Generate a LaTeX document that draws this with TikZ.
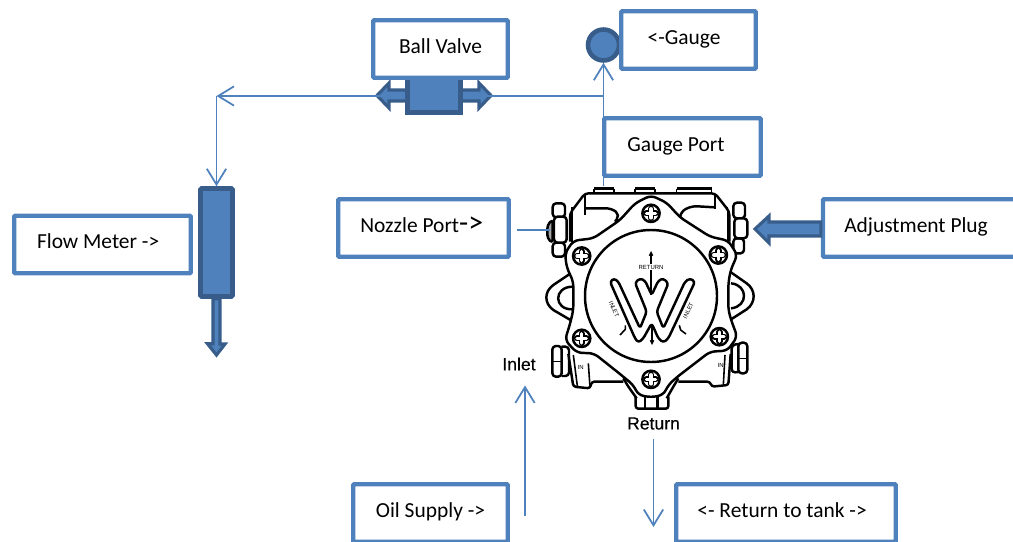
\documentclass[tikz,border=0pt]{standalone}
\usepackage{fontspec}
\setmainfont{Carlito}
\newfontfamily\pumpfont{Liberation Sans}
\newfontfamily\pumpheavyfont[FakeBold=.3]{Liberation Sans}
\usetikzlibrary{arrows.meta,positioning,calc}
\definecolor{officeblue}{HTML}{4F81BD}
\definecolor{officedark}{HTML}{385D8A}

\begin{document}
\begin{tikzpicture}[
    x=.02cm, y=-.02cm,
    >={Straight Barb[length=9pt,width=11pt,line width=1pt]},
    labelbox/.style = {draw=officeblue, fill=white, line width=2.5pt, rounded corners=.6pt, minimum height=1.15cm, text height=9.6pt, text depth=4.6pt, font=\fontsize{12.2}{14}\selectfont},
    flowline/.style = {->, draw=officeblue, line width=1pt},
    plainline/.style = {draw=officeblue, line width=1pt},
    solidpart/.style = {draw=officedark, fill=officeblue, line width=2.6pt},
    pumpline/.style = {draw=black, line width=.9pt, line join=round},
    pumpheavy/.style = {draw=black, line width=1.4pt, line join=round},
    pumptext/.style = {font=\pumpheavyfont\fontsize{10}{12}\selectfont},
    pumpsmall/.style = {font=\pumpfont\fontsize{3.4}{4}\selectfont}
    ]
    \useasboundingbox (0,0) rectangle (1013,541);
    \clip (0,0) rectangle (1013,541);

    % pump drawing
    \begin{scope}[shift={(520,170)}, scale=1/3]
      % top bars
      \foreach \bx/\bw in {222/60, 345/60, 470/105} {
        \draw[pumpline, line width=1.6pt] (\bx,56) -- (\bx+\bw,56);
        \draw[pumpline] (\bx,56) -- (\bx,68) (\bx+\bw,56) -- (\bx+\bw,68);
      }
      % body
      \draw[pumpheavy, rounded corners=2pt] (150,215) -- (150,130) -- (195,70) -- (585,70) -- (628,125) -- (628,215);
      \draw[pumpline] (156,215) -- (156,112);
      \draw[pumpline] (622,215) -- (622,112);
      \draw[pumpheavy] (195,72) -- (195,135);
      \draw[pumpheavy, rounded corners=3pt] (198,115) -- (275,115) -- (300,135) -- (285,155);
      \draw[pumpheavy] (585,72) -- (585,118);
      \draw[pumpheavy, rounded corners=3pt] (585,112) -- (515,108) -- (482,125) -- (480,145);
      % side nuts
      \draw[pumpheavy, fill=black!35, rounded corners=2pt] (98,148) -- (82,165) -- (82,205) -- (98,220) -- cycle;
      \draw[pumpheavy, fill=white, rounded corners=2pt] (98,100) rectangle (135,142);
      \draw[pumpheavy, fill=white, rounded corners=2pt] (98,218) rectangle (135,260);
      \draw[pumpheavy, fill=white, rounded corners=2pt] (102,140) rectangle (140,218);
      \draw[pumpheavy, fill=white, rounded corners=2pt] (640,98) rectangle (675,145);
      \draw[pumpheavy, fill=white, rounded corners=2pt] (640,205) rectangle (672,250);
      \draw[pumpheavy, fill=white, rounded corners=2pt] (643,145) rectangle (682,205);
      % ears
      \draw[pumpheavy] (155,308) -- (100,345) .. controls (72,365) and (72,400) .. (100,420) -- (165,458);
      \draw[pumpheavy] (158,350) .. controls (100,350) and (100,420) .. (158,418);
      \draw[pumpheavy] (630,305) -- (680,340) .. controls (708,360) and (708,398) .. (680,418) -- (630,450);
      \draw[pumpheavy] (633,340) .. controls (685,345) and (685,410) .. (633,415);
      % lower body and nuts
      \draw[pumpheavy, rounded corners=1.5pt] (145,552) -- (160,650) -- (210,655) -- (215,635) -- (310,635);
      \draw[pumpline] (160,555) -- (172,648) (205,580) -- (210,652);
      \draw[pumpheavy, fill=white, rounded corners=2pt] (97,528) rectangle (125,620);
      \draw[pumpheavy, rounded corners=2pt] (125,530) -- (147,530) -- (147,618) -- (125,618);
      \draw[pumpline] (98,575) -- (125,575);
      \draw[pumpheavy, rounded corners=1.5pt] (632,552) -- (625,645) -- (575,650) -- (570,635) -- (475,635);
      \draw[pumpline] (615,555) -- (610,645);
      \draw[pumpheavy, fill=white, rounded corners=2pt] (655,518) rectangle (682,610);
      \draw[pumpheavy, rounded corners=2pt] (655,522) -- (635,525) -- (635,608) -- (655,606);
      \draw[pumpline] (655,565) -- (682,565);
      % bottom nub
      \draw[pumpheavy, rounded corners=1.5pt] (347,680) -- (347,716) -- (445,716) -- (445,680);
      \draw[pumpheavy] (375,682) -- (375,714) (412,682) -- (412,714);
      \draw[pumpheavy, rounded corners=1.5pt] (310,625) -- (325,650) -- (350,685);
      \draw[pumpheavy, rounded corners=1.5pt] (475,625) -- (460,650) -- (440,685);
      % cover plate
      \draw[pumpheavy, fill=white, rounded corners=3pt] (393,76) -- (440,98) -- (480,142) -- (570,200) -- (625,212) -- (652,255) -- (632,300) -- (625,340) -- (625,420) -- (635,455) -- (652,500) -- (622,542) -- (570,545) -- (470,622) -- (445,645) -- (430,675) -- (393,682) -- (355,675) -- (340,645) -- (300,612) -- (222,550) -- (170,548) -- (135,510) -- (150,462) -- (160,420) -- (160,335) -- (140,292) -- (135,250) -- (160,212) -- (220,205) -- (300,150) -- (345,100) -- cycle;
      \draw[pumpheavy] (393,378) circle (198);
      % screws
      \foreach \sx/\sy in {393/130, 595/255, 598/500, 393/628, 185/258, 185/505} {
        \draw[pumpheavy] (\sx,\sy) circle (26);
        \draw[black, line width=3.6pt, line cap=round] (\sx-14,\sy) -- (\sx+14,\sy) (\sx,\sy-14) -- (\sx,\sy+14);
        \draw[white, line width=1.8pt, line cap=round] (\sx-14,\sy) -- (\sx+14,\sy) (\sx,\sy-14) -- (\sx,\sy+14);
      }
      % W
      \draw[pumpheavy, rounded corners=1.6pt] (270,335) -- (282,325) -- (295,335) -- (360,475) -- (380,425) -- (345,338) -- (360,325) -- (375,332) -- (395,375) -- (415,332) -- (430,325) -- (445,340) -- (410,425) -- (430,475) -- (495,335) -- (510,325) -- (525,335) -- (445,505) -- (430,518) -- (415,505) -- (395,460) -- (370,505) -- (355,518) -- (345,505) -- cycle;
      \draw[pumpline, line width=.6pt, ->, >={Straight Barb[length=2pt,width=2pt]}] (393,375) -- (393,243);
      \draw[pumpline, line width=.6pt, ->, >={Straight Barb[length=2pt,width=2pt]}] (396,462) -- (396,525);
      \draw[pumpline] (316,466) -- (316,478) -- (300,495);
      \draw[pumpline] (478,466) -- (482,480) -- (498,492);
      \node[pumpsmall, fill=white, inner sep=.5pt] (returnmark) at (393,291) {RETURN};
      \node[pumpsmall, rotate=-65] (inletleft) at (282,418) {INLET};
      \node[pumpsmall, rotate=65] (inletright) at (505,422) {INLET};
      \node[pumpsmall] (inleft) at (182,592) {IN};
      \node[pumpsmall] (inright) at (602,585) {IN};
    \end{scope}

    \coordinate (pumptop) at (603.5,186);
    \coordinate (pumpnozzle) at (550,230);
    \coordinate (junction) at (603.5,96);
    \coordinate (corner) at (216.5,96);

    % valve arrows sit under the lines
    \draw[solidpart, line width=1.8pt, line join=miter, miter limit=10] (377,95.5) -- (389,83) -- (389,90) -- (479,90) -- (479,83) -- (491,95.5) -- (479,108) -- (479,101) -- (389,101) -- (389,108) -- cycle;

    \node[solidpart, minimum width=1.06cm, minimum height=1.1cm, inner sep=0pt] (valve) at (434,85) {};
    \node[solidpart, minimum width=.64cm, minimum height=2.16cm, inner sep=0pt, rounded corners=.6pt] (meter) at (216.5,242.5) {};
    \draw[solidpart, line width=1.8pt, line join=miter] (meter.south) ++(-3.5,0) -- ++(0,45) -- ++(-5.5,0) -- (216.5,355) -- (225,344) -- ++(-5,0) -- ($(meter.south)+(3.5,0)$) -- cycle;
    \node[solidpart, circle, minimum size=.62cm, inner sep=0pt] (gaugedot) at (603.5,45) {};

    \draw[plainline] (junction) -- (valve.east |- junction);
    \draw[flowline] (pumptop) -- (gaugedot.south);
    \draw[flowline] (valve.west |- junction) -- (corner);
    \draw[flowline] (corner) -- (meter.north);

    \node[labelbox, minimum width=2.69cm] (ballvalve) at (440.5,49) {Ball Valve};
    \node[labelbox, minimum width=2.69cm] (gauge) at (688.5,40) {<-Gauge\kern5pt};
    \node[labelbox, minimum width=3.13cm] (gaugeport) at (682.5,147) {Gauge Port\kern7.4pt};
    \node[labelbox, minimum width=3.53cm] (flowmeter) at (102.5,244.5) {Flow Meter ->\kern5pt};
    \node[labelbox, minimum width=3.41cm] (nozzleport) at (423.5,228) {Nozzle Port{\fontsize{17}{17}\selectfont ->}\kern2pt};
    \node[labelbox, minimum width=4.2cm] (adjustplug) at (928,228) {Adjustment Plug\kern13.6pt};
    \node[labelbox, minimum width=3.09cm] (oilsupply) at (430.5,513) {Oil Supply ->};
    \node[labelbox, minimum width=4.39cm] (returntank) at (786,513) {<- Return to tank ->\kern4.5pt};

    \node[pumptext] (inlet) at (519,364) {Inlet};
    \node[pumptext] (return) at (653.5,423.5) {Return};

    \draw[plainline, shorten <=3.4pt] (nozzleport.east |- pumpnozzle) -- (pumpnozzle);
    \draw[solidpart, line width=1.8pt, line join=miter] (adjustplug.west |- 0,222) -- (769,222) -- (769,216) -- (755,229) -- (769,243) -- (769,236) -- (adjustplug.west |- 0,236) -- cycle;
    \coordinate (inletfoot) at (525,516);
    \coordinate (returnfoot) at (653.5,527);
    \draw[flowline, shorten >=5pt] (inletfoot) -- (inlet.south -| inletfoot);
    \draw[flowline, shorten <=2pt] (return.south) -- (returnfoot);
\end{tikzpicture}
\end{document}
